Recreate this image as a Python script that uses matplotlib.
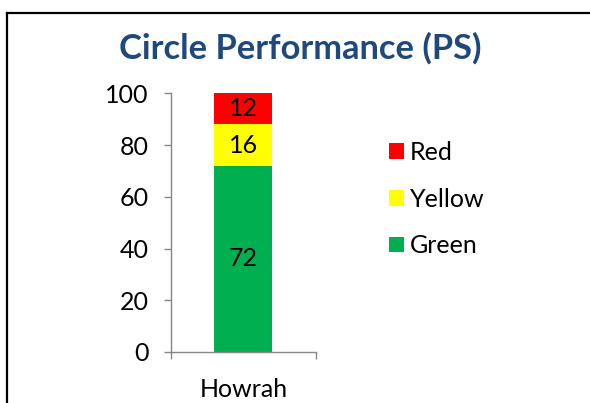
import matplotlib
matplotlib.use("Agg")
import matplotlib.pyplot as plt
from matplotlib.lines import Line2D
from matplotlib.ticker import FixedLocator

plt.rcParams['font.family'] = ['Lato', 'DejaVu Sans']

# data
categories = ['Howrah']
series_names = ['Green', 'Yellow', 'Red']
series_values = {
    'Green': [72],
    'Yellow': [16],
    'Red': [12],
}
series_colors = {'Green': '#00B050', 'Yellow': '#FFFF00', 'Red': '#FF0000'}
y_ticks = [0, 20, 40, 60, 80, 100]

fig = plt.figure(figsize=(5.9, 4.03), dpi=100)
ax = fig.add_axes([0.2893, 0.1266, 0.5356 - 0.2893, 0.7685 - 0.1266])

x = list(range(len(categories)))
bottom = [0] * len(categories)
handles = {}
for name in series_names:
    vals = series_values[name]
    bars = ax.bar(x, vals, width=0.4, bottom=bottom, color=series_colors[name], label=name)
    handles[name] = bars
    for b, v in zip(bars, vals):
        ax.text(b.get_x() + b.get_width() / 2, b.get_y() + v / 2, str(v),
                ha='center', va='center', fontsize=18, color='black')
    bottom = [b0 + v for b0, v in zip(bottom, vals)]

ax.set_xlim(-0.5, len(categories) - 0.5)
ax.set_ylim(0, 100)
ax.set_yticks(y_ticks)
ax.set_xticks(x)
ax.set_xticklabels(categories)
ax.xaxis.set_minor_locator(FixedLocator([-0.5, len(categories) - 0.5]))

gray = '#868686'
for s in ['top', 'right']:
    ax.spines[s].set_visible(False)
for s in ['left', 'bottom']:
    ax.spines[s].set_color(gray)
    ax.spines[s].set_linewidth(1.0)
ax.tick_params(axis='y', which='major', direction='out', length=5, width=1.0, color=gray,
               labelsize=18, pad=11)
ax.tick_params(axis='x', which='major', length=0, labelsize=18, pad=19)
ax.tick_params(axis='x', which='minor', direction='out', length=5, width=1.0, color=gray)

# legend, Red on top
leg_order = ['Red', 'Yellow', 'Green']
leg = fig.legend([handles[n] for n in leg_order], leg_order, loc='center left',
                 bbox_to_anchor=(0.659, 0.506), frameon=False, fontsize=18,
                 handlelength=0.6, handleheight=0.6, handletextpad=0.25,
                 labelspacing=0.95, borderpad=0, borderaxespad=0)

fig.text(0.5085, 0.88, 'Circle Performance (PS)', ha='center', va='center',
         fontsize=24.8, fontweight='bold', color='#1F497D')

# chart border (runs off the right and bottom edge)
fig.add_artist(Line2D([7 / 590, 1.0], [1 - 13 / 403, 1 - 13 / 403], color='black', linewidth=1.6))
fig.add_artist(Line2D([7 / 590, 7 / 590], [1 - 13 / 403, 0.0], color='black', linewidth=1.6))

fig.savefig('out.png', dpi=100)
